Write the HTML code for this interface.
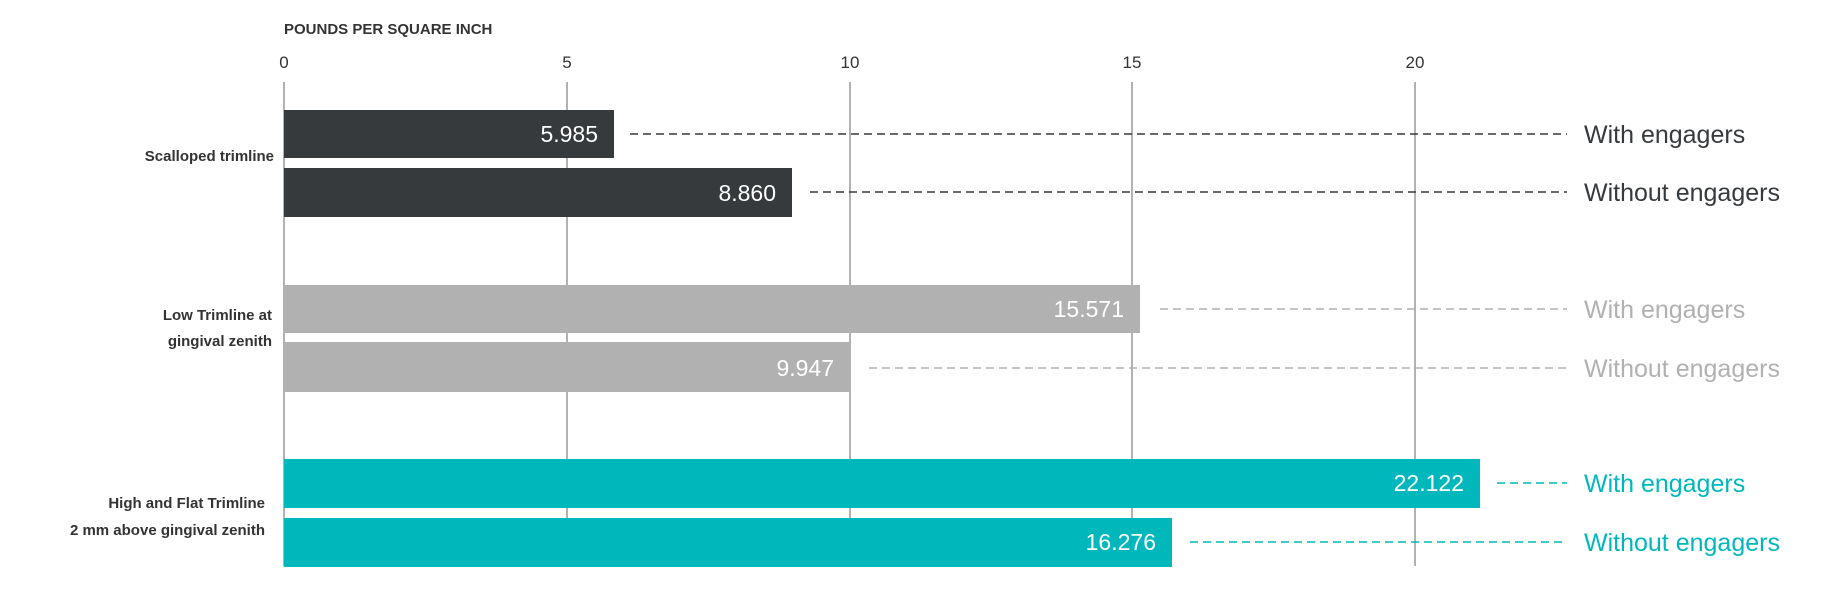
<!DOCTYPE html>
<html><head><style>
html,body{margin:0;padding:0;background:#fff;}
svg{display:block;font-family:"Liberation Sans",sans-serif;}
</style></head><body>
<svg width="1821" height="600" viewBox="0 0 1821 600">
<text x="284" y="34" font-size="15" font-weight="bold" fill="#333">POUNDS PER SQUARE INCH</text>
<g font-size="17" fill="#333" text-anchor="middle">
<text x="284" y="68">0</text><text x="567" y="68">5</text><text x="850" y="68">10</text><text x="1132" y="68">15</text><text x="1415" y="68">20</text>
</g>
<g stroke="#888" stroke-width="1.3">
<line x1="284" y1="82" x2="284" y2="566"/><line x1="567" y1="82" x2="567" y2="566"/><line x1="850" y1="82" x2="850" y2="566"/><line x1="1132" y1="82" x2="1132" y2="566"/><line x1="1415" y1="82" x2="1415" y2="566"/>
</g>
<rect x="284" y="110" width="330" height="48" fill="#363a3c"/>
<rect x="284" y="168" width="508" height="49" fill="#363a3c"/>
<rect x="284" y="285" width="856" height="48" fill="#b0b1b0"/>
<rect x="284" y="342" width="566" height="50" fill="#b0b1b0"/>
<rect x="284" y="459" width="1196" height="49" fill="#00b8bc"/>
<rect x="284" y="518" width="888" height="49" fill="#00b8bc"/>
<g font-size="23" fill="#fff" text-anchor="end">
<text x="598" y="142">5.985</text>
<text x="776" y="201">8.860</text>
<text x="1124" y="317">15.571</text>
<text x="834" y="376">9.947</text>
<text x="1464" y="491">22.122</text>
<text x="1156" y="550">16.276</text>
</g>
<g stroke-width="1.6" stroke-dasharray="8,5">
<line x1="630" y1="134" x2="1567" y2="134" stroke="#363a3c"/>
<line x1="810" y1="192" x2="1567" y2="192" stroke="#363a3c"/>
<line x1="1160" y1="309" x2="1567" y2="309" stroke="#b0b1b0"/>
<line x1="869" y1="368" x2="1567" y2="368" stroke="#b0b1b0"/>
<line x1="1497" y1="483" x2="1567" y2="483" stroke="#00b8bc"/>
<line x1="1190" y1="542" x2="1567" y2="542" stroke="#00b8bc"/>
</g>
<g font-size="25">
<text x="1584" y="143" fill="#363a3c">With engagers</text>
<text x="1584" y="201" fill="#363a3c">Without engagers</text>
<text x="1584" y="318" fill="#b0b1b0">With engagers</text>
<text x="1584" y="377" fill="#b0b1b0">Without engagers</text>
<text x="1584" y="492" fill="#00b8bc">With engagers</text>
<text x="1584" y="551" fill="#00b8bc">Without engagers</text>
</g>
<g font-size="15" font-weight="bold" fill="#333" text-anchor="end">
<text x="274" y="161">Scalloped trimline</text>
<text x="272" y="320">Low Trimline at</text>
<text x="272" y="346">gingival zenith</text>
<text x="265" y="508">High and Flat Trimline</text>
<text x="265" y="535">2 mm above gingival zenith</text>
</g>
</svg>
</body></html>
